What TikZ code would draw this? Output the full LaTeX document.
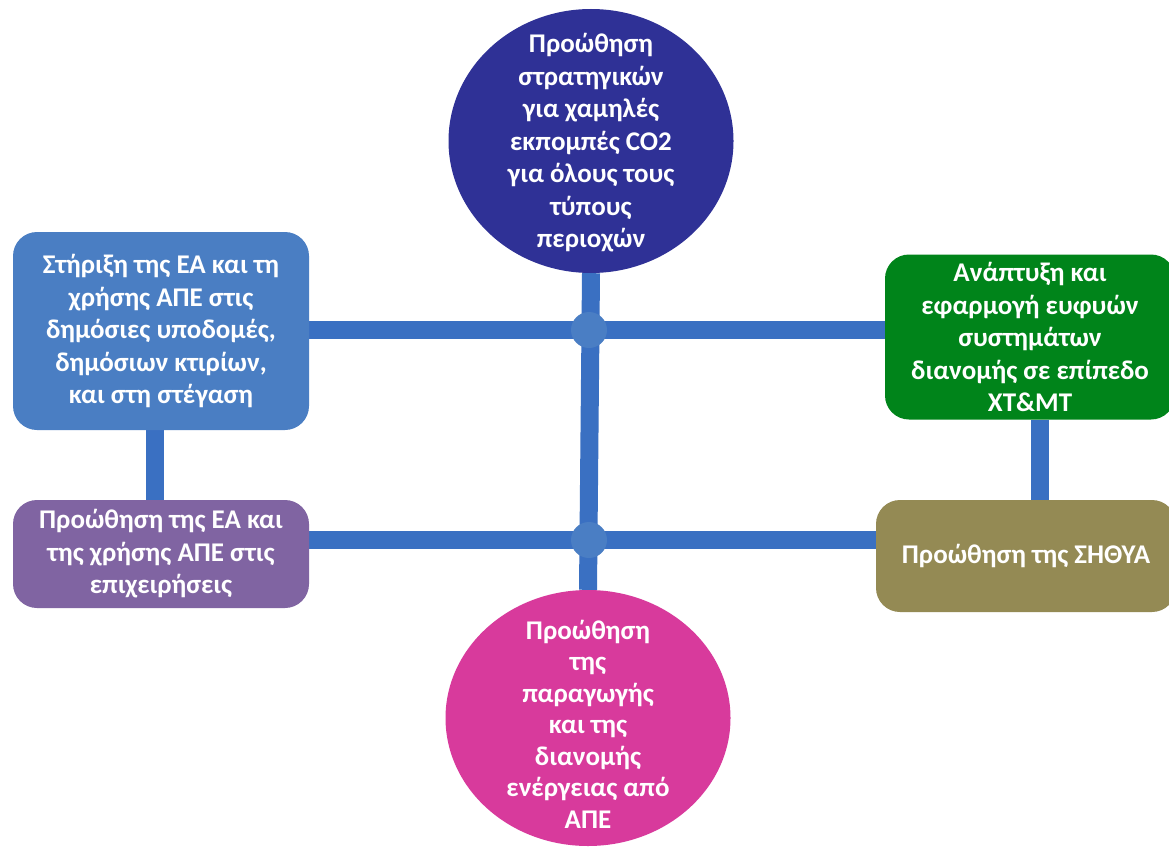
\documentclass[tikz,border=0pt]{standalone}
\usepackage{fontspec}
\setmainfont{Carlito}
\usetikzlibrary{shapes.geometric,backgrounds}
\definecolor{cBlueBox}{HTML}{4A7EC3}
\definecolor{cPurple}{HTML}{8064A2}
\definecolor{cGreen}{HTML}{00841A}
\definecolor{cOlive}{HTML}{948A54}
\definecolor{cNavy}{HTML}{2F3196}
\definecolor{cMagenta}{HTML}{D83A9C}
\definecolor{cLine}{HTML}{3A70C2}
\definecolor{cDot}{HTML}{4A7EC4}
\tikzset{
  txt/.style={text=white, font=\bfseries\fontsize{27}{32.5}\selectfont, align=center, inner sep=0pt},
  box/.style={txt, rounded corners=24pt, draw=none},
  oval/.style={ellipse, draw=none, inner sep=0pt},
  bar/.style={draw=cLine, line width=18pt},
  dot/.style={circle, fill=cDot, minimum size=36pt, inner sep=0pt}
}
\begin{document}
\begin{tikzpicture}[x=1pt,y=-1pt]
\useasboundingbox (0,0) rectangle (1169,848);
% boxes
\node[box, fill=cBlueBox, minimum width=296pt, minimum height=198pt] (lb1) at (161,331)
  {Στήριξη της ΕΑ και τη\\χρήσης ΑΠΕ στις\\δημόσιες υποδομές,\\δημόσιων κτιρίων,\\και στη στέγαση};
\node[box, fill=cPurple, minimum width=296pt, minimum height=108pt] (lb2) at (161,554)
  {Προώθηση της ΕΑ και\\της χρήσης ΑΠΕ στις\\επιχειρήσεις};
\node[box, fill=cGreen, minimum width=290pt, minimum height=165pt] (rb1) at (1030,337)
  {Ανάπτυξη και\\εφαρμογή ευφυών\\συστημάτων\\διανομής σε επίπεδο\\ΧΤ\&ΜΤ};
\node[box, fill=cOlive, minimum width=300pt, minimum height=112pt] (rb2) at (1026,556)
  {Προώθηση της ΣΗΘΥΑ};
\node[oval, fill=cNavy, minimum width=285pt, minimum height=264pt] (top) at (591,141) {};
\node[txt] (toptxt) at (591,143)
  {Προώθηση\\στρατηγικών\\για χαμηλές\\εκπομπές CO2\\για όλους τους\\τύπους\\περιοχών};
\node[oval, fill=cMagenta, minimum width=285pt, minimum height=256pt] (bot) at (588,718) {};
\node[txt, font=\bfseries\fontsize{27}{31.5}\selectfont] (bottxt) at (588,724)
  {Προώθηση\\της\\παραγωγής\\και της\\διανομής\\ενέργειας από\\ΑΠΕ};
\coordinate (j1) at (589,330);
\coordinate (j2) at (589,540);
\coordinate (vl) at (155,0);
\coordinate (vr) at (1040,0);
\begin{scope}[on background layer]
\fill[white] (0,0) rectangle (1169,848);
\draw[bar] (top.south) -- (bot.north);
\draw[bar] (lb1.east |- j1) -- (rb1.west |- j1);
\draw[bar] (lb2.east |- j2) -- (rb2.west |- j2);
\draw[bar] (vl |- lb1.south) -- (vl |- lb2.north);
\draw[bar] (vr |- rb1.south) -- (vr |- rb2.north);
\node[dot] (d1) at (j1) {};
\node[dot] (d2) at (j2) {};
\end{scope}
\end{tikzpicture}
\end{document}
